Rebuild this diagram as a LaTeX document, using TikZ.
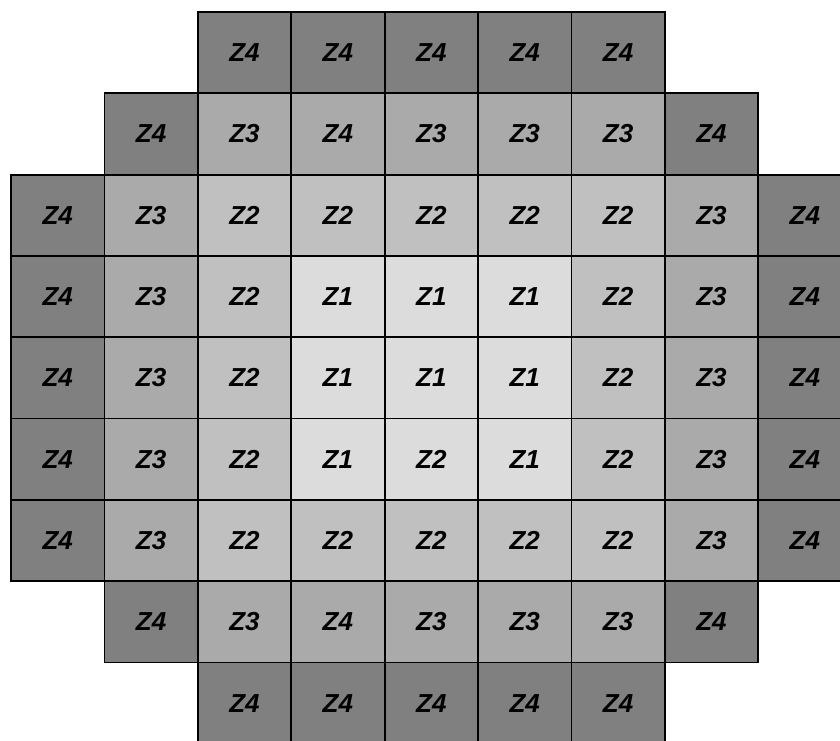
\documentclass[tikz,border=0pt]{standalone}
\usepackage{fontspec}
\setmainfont{Liberation Sans}
\usepackage{xcolor}

\definecolor{zone1}{HTML}{DCDCDC}
\definecolor{zone2}{HTML}{C0C0C0}
\definecolor{zone3}{HTML}{AAAAAA}
\definecolor{zone4}{HTML}{808080}

% each entry: row / {column / shade / label, ...}
\def\corerows{
 1/{3/4/4,4/4/4,5/4/4,6/4/4,7/4/4},
 2/{2/4/4,3/3/3,4/3/4,5/3/3,6/3/3,7/3/3,8/4/4},
 3/{1/4/4,2/3/3,3/2/2,4/2/2,5/2/2,6/2/2,7/2/2,8/3/3,9/4/4},
 4/{1/4/4,2/3/3,3/2/2,4/1/1,5/1/1,6/1/1,7/2/2,8/3/3,9/4/4},
 5/{1/4/4,2/3/3,3/2/2,4/1/1,5/1/1,6/1/1,7/2/2,8/3/3,9/4/4},
 6/{1/4/4,2/3/3,3/2/2,4/1/1,5/1/2,6/1/1,7/2/2,8/3/3,9/4/4},
 7/{1/4/4,2/3/3,3/2/2,4/2/2,5/2/2,6/2/2,7/2/2,8/3/3,9/4/4},
 8/{2/4/4,3/3/3,4/3/4,5/3/3,6/3/3,7/3/3,8/4/4},
 9/{3/4/4,4/4/4,5/4/4,6/4/4,7/4/4}}

\begin{document}
\begin{tikzpicture}[x=1pt,y=-1pt,
 cell/.style={minimum width=93.4pt,minimum height=81.3pt,
 inner sep=0pt,outer sep=0pt,font=\fontsize{26}{30}\selectfont\bfseries\itshape},
 cellline/.style={line width=1.8pt}]
 \useasboundingbox (0,0) rectangle (840,740);
 % fills and labels
 \foreach \r/\cells in \corerows
 {
 \foreach \c/\s/\z in \cells
 \node[cell,fill=zone\s] (c\r\c) at ({57.7+93.4*(\c-1)},{52.65+81.3*(\r-1)}) {Z\z};
 }
 % borders on top
 \foreach \r/\cells in \corerows
 {
 \foreach \c/\s/\z in \cells
 \draw[cellline] (c\r\c.north west) rectangle (c\r\c.south east);
 }
\end{tikzpicture}
\end{document}
